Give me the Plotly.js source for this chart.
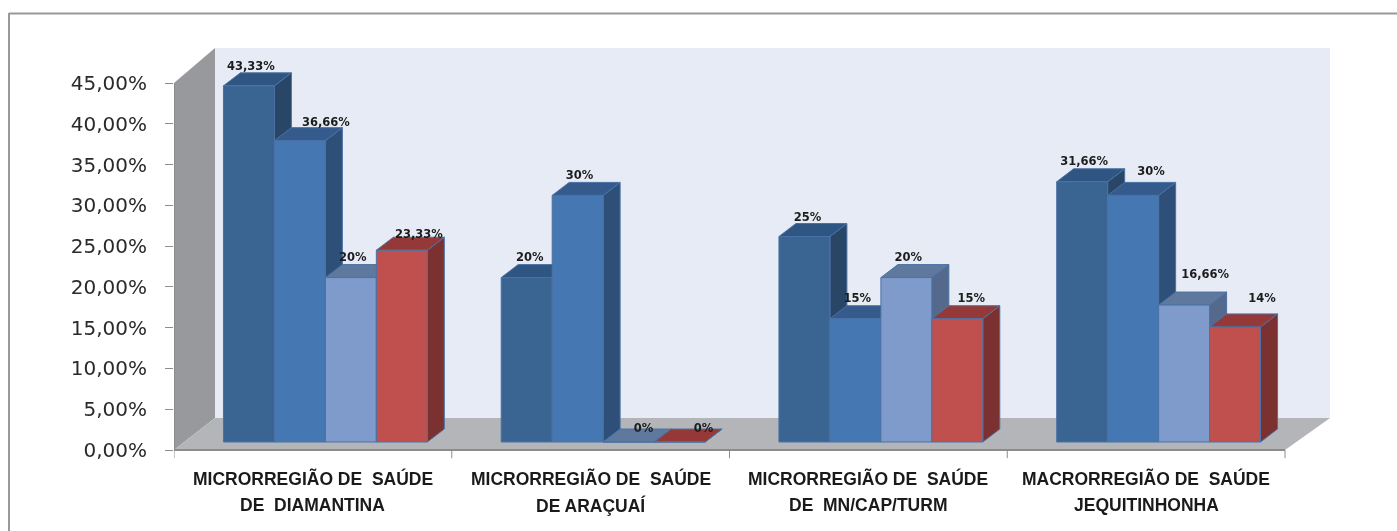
<!DOCTYPE html>
<html>
<head>
<meta charset="utf-8">
<script src="https://cdn.plot.ly/plotly-3.0.1.min.js"></script>
<style>html,body{margin:0;padding:0;background:#fff}#chart{width:1397px;height:531px;filter:blur(0.45px)}</style>
</head>
<body>
<div id="chart"></div>
<script>
// ---- data ----
const categoryLine1 = ['MICRORREGIÃO DE\u00a0\u00a0SAÚDE', 'MICRORREGIÃO DE\u00a0\u00a0SAÚDE', 'MICRORREGIÃO DE\u00a0\u00a0SAÚDE', 'MACRORREGIÃO DE\u00a0\u00a0SAÚDE'];
const categoryLine2 = ['DE\u00a0\u00a0DIAMANTINA', 'DE ARAÇUAÍ', 'DE\u00a0\u00a0MN/CAP/TURM', 'JEQUITINHONHA'];
const series1 = [43.33, 20, 25, 31.66];
const series2 = [36.66, 30, 15, 30];
const series3 = [20, 0, 20, 16.66];
const series4 = [23.33, 0, 15, 14];
const labels1 = ['43,33%', '20%', '25%', '31,66%'];
const labels2 = ['36,66%', '30%', '15%', '30%'];
const labels3 = ['20%', '0%', '20%', '16,66%'];
const labels4 = ['23,33%', '0%', '15%', '14%'];
const yTicks = [0, 5, 10, 15, 20, 25, 30, 35, 40, 45];
const yTickText = ['0,00%', '5,00%', '10,00%', '15,00%', '20,00%', '25,00%', '30,00%', '35,00%', '40,00%', '45,00%'];

// ---- styles ----
const frontColors = ['#3A6492', '#4577B2', '#7E9BCB', '#C0504D'];
const topColors = ['#2F5583', '#345B8B', '#5F789E', '#953938'];
const sideColors = ['#2A4666', '#2E4F78', '#55698C', '#7A3130'];
const edge = '#4A72A5';
// label nudges in pixels relative to the centre of each bar's front face [series][group]
const labelDx = [[2, 3, 3, 2], [26, 2, 2, 18], [2, 15, 2, 21], [17, 24, 14, 27]];
const labelDy = [[19, 19, 18, 20], [18, 19, 20, 23], [19, 13, 19, 30], [15, 13, 20, 28]];

// ---- geometry ----
const W = 1397, H = 531;
const L = 174, T = 48, R = 1330, B = 460;
const xScale = 277.75, yScale = 8.155, barScale = 8.22;
const y0Px = 450, bar0Px = 442;
const xMax = (R - L) / xScale;
const yRange = [(y0Px - B) / yScale, (y0Px - T) / yScale];
const barRange = [(bar0Px - B) / barScale, (bar0Px - T) / barScale];
const wallDx = 41 / xScale, wallDy = 32 / yScale;
const barDx = 17 / xScale, barDy = 13 / barScale;
const groupShift = 12.5 / xScale, barGap = 0.266;
const barW = (1 - barGap) / 4;
const centers = [0, 1, 2, 3].map(i => i + 0.5 + groupShift);
const allSeries = [series1, series2, series3, series4];
const allLabels = [labels1, labels2, labels3, labels4];
const names = ['Série 1', 'Série 2', 'Série 3', 'Série 4'];

function poly(pts, color, axis, line) {
  return {
    type: 'scatter', mode: 'lines', fill: 'toself', fillcolor: color,
    x: pts.map(p => p ? p[0] : null), y: pts.map(p => p ? p[1] : null),
    line: line || {width: 0, color: color}, xaxis: 'x', yaxis: axis,
    hoverinfo: 'skip', showlegend: false
  };
}
const traces = [];
// walls and floor
traces.push(poly([[wallDx, wallDy], [xMax, wallDy], [xMax, yRange[1]], [wallDx, yRange[1]]], '#E7EBF5', 'y'));
traces.push(poly([[0, 0], [wallDx, wallDy], [wallDx, yRange[1]], [0, 45]], '#98999D', 'y'));
traces.push(poly([[0, 0], [wallDx, wallDy], [xMax, wallDy], [4, 0]], '#B3B5B9', 'y'));
// axis lines and boundary ticks
const tickX = [], tickY = [];
[0, 1, 2, 3, 4].forEach(i => { tickX.push(i, i, null); tickY.push(0, -1, null); });
traces.push({type: 'scatter', mode: 'lines', x: tickX, y: tickY, line: {color: '#8C8C8C', width: 1}, xaxis: 'x', yaxis: 'y', hoverinfo: 'skip', showlegend: false});
traces.push({type: 'scatter', mode: 'lines', x: [0, 0, 4], y: [45, 0, 0], line: {color: '#8C8C8C', width: 2}, xaxis: 'x', yaxis: 'y', hoverinfo: 'skip', showlegend: false});

// side and top faces of the bars
allSeries.forEach((vals, s) => {
  const side = [], top = [];
  vals.forEach((v, g) => {
    const xl = centers[g] + (s - 2) * barW, xr = xl + barW;
    side.push([xr, 0], [xr + barDx, barDy], [xr + barDx, v + barDy], [xr, v], [xr, 0], null);
    top.push([xl, v], [xl + barDx, v + barDy], [xr + barDx, v + barDy], [xr, v], [xl, v], null);
  });
  traces.push(poly(side, sideColors[s], 'y2', {width: 1, color: edge}));
  traces.push(poly(top, topColors[s], 'y2', {width: 1, color: edge}));
});
// front faces
allSeries.forEach((vals, s) => {
  traces.push({
    type: 'bar', name: names[s], x: centers, y: vals, xaxis: 'x', yaxis: 'y3',
    marker: {color: frontColors[s], line: {color: edge, width: 1}}, hoverinfo: 'skip', showlegend: false
  });
});
// data labels
allSeries.forEach((vals, s) => {
  traces.push({
    type: 'scatter', mode: 'text', xaxis: 'x', yaxis: 'y3', cliponaxis: false,
    x: vals.map((v, g) => centers[g] + (s - 1.5) * barW + labelDx[s][g] / xScale),
    y: vals.map((v, g) => v + labelDy[s][g] / barScale),
    text: allLabels[s], textposition: 'middle center',
    textfont: {family: 'DejaVu Sans', size: 11.5, color: '#1c1c1c', weight: 700}, hoverinfo: 'skip', showlegend: false
  });
});

const py = px => (B - px) / (B - T), pxX = px => (px - L) / (R - L);
const annotations = [];
[categoryLine1, categoryLine2].forEach((lines, row) => {
  lines.forEach((t, i) => annotations.push({
    text: t, x: i + 0.5, xref: 'x', y: py(row ? 505 : 478), yref: 'paper',
    xanchor: 'center', yanchor: 'middle', showarrow: false,
    font: {family: 'Liberation Sans', size: 17.5, color: '#1a1a1a', weight: 700}
  }));
});

const hiddenY = r => ({range: r, overlaying: 'y', visible: false, fixedrange: true});
const layout = {
  width: W, height: H, autosize: false,
  margin: {l: L, r: W - R, t: T, b: H - B, pad: 0},
  paper_bgcolor: '#fff', plot_bgcolor: '#fff', showlegend: false,
  barmode: 'group', bargap: barGap, bargroupgap: 0,
  xaxis: {range: [0, xMax], showticklabels: false, ticks: '', showgrid: false, zeroline: false, showline: false, fixedrange: true},
  yaxis: {range: yRange, tickvals: yTicks, ticktext: yTickText, ticks: 'outside', ticklen: 8, tickcolor: '#8C8C8C', tickwidth: 1,
    showgrid: false, zeroline: false, showline: false, fixedrange: true,
    tickfont: {family: 'DejaVu Sans', size: 20, color: '#2a2a2a'}, ticklabelstandoff: 14},
  yaxis2: hiddenY(barRange), yaxis3: hiddenY(barRange),
  annotations: annotations,
  shapes: [{type: 'line', xref: 'paper', yref: 'paper', x0: pxX(9), x1: pxX(W), y0: py(13.5), y1: py(13.5), line: {color: '#999', width: 2}},
           {type: 'line', xref: 'paper', yref: 'paper', x0: pxX(9), x1: pxX(9), y0: py(13), y1: py(H), line: {color: '#999', width: 2}}]
};
Plotly.newPlot('chart', traces, layout, {displayModeBar: false, staticPlot: true});
</script>
</body>
</html>
